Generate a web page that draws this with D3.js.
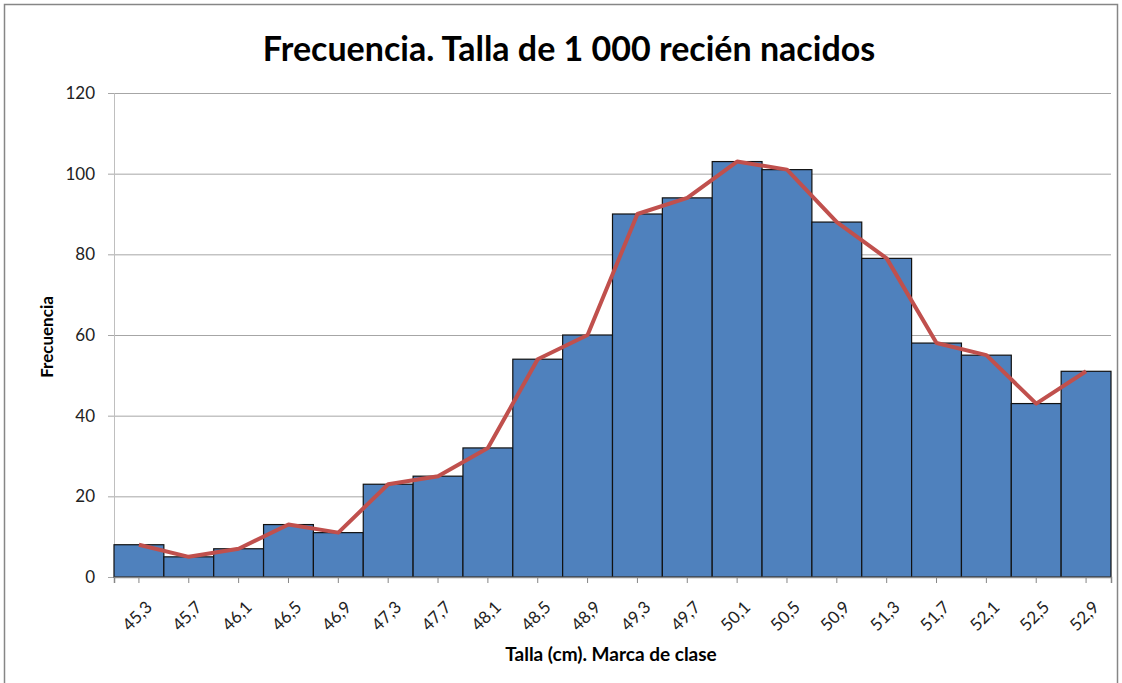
<!DOCTYPE html>
<html>
<head>
<meta charset="utf-8">
<script src="https://cdn.jsdelivr.net/npm/d3@7"></script>
<style>
  body { margin: 0; background: #fff; }
  svg { display: block; font-family: Lato, "Open Sans", sans-serif; }
</style>
</head>
<body>
<svg width="1122" height="683"></svg>
<script>
var categories = ["45,3", "45,7", "46,1", "46,5", "46,9", "47,3", "47,7", "48,1", "48,5", "48,9",
                  "49,3", "49,7", "50,1", "50,5", "50,9", "51,3", "51,7", "52,1", "52,5", "52,9"];
var frequencies = [8, 5, 7, 13, 11, 23, 25, 32, 54, 60, 90, 94, 103, 101, 88, 79, 58, 55, 43, 51];
var yTicks = [0, 20, 40, 60, 80, 100, 120];

var svg = d3.select("svg");
var margin = {top: 93, right: 11, bottom: 106, left: 114};
var width = 1122 - margin.left - margin.right;
var height = 683 - margin.top - margin.bottom;

// outer frame of the chart
svg.append("rect")
    .attr("x", 4.5).attr("y", 4.5)
    .attr("width", 1113).attr("height", 690)
    .attr("fill", "none")
    .attr("stroke", "#868686")
    .attr("stroke-width", 1.5);

svg.append("text")
    .attr("x", 569).attr("y", 61)
    .attr("text-anchor", "middle")
    .attr("font-size", 34)
    .attr("font-weight", "bold")
    .attr("fill", "#000")
    .text("Frecuencia. Talla de 1 000 recién nacidos");

var g = svg.append("g").attr("transform", "translate(" + margin.left + "," + margin.top + ")");

var x = d3.scaleBand()
    .domain(categories)
    .range([0, width])
    .padding(0);

var y = d3.scaleLinear()
    .domain([0, 120])
    .range([height, 0]);

// gridlines
g.selectAll(".grid")
    .data(yTicks.slice(1))
    .enter().append("line")
    .attr("class", "grid")
    .attr("x1", 0).attr("x2", width)
    .attr("y1", function(d) { return y(d) + 0.5; })
    .attr("y2", function(d) { return y(d) + 0.5; })
    .attr("stroke", "#a6a6a6")
    .attr("stroke-width", 1);

// y axis
var yAxis = g.append("g")
    .call(d3.axisLeft(y).tickValues(yTicks).tickSize(6).tickPadding(13));
yAxis.select(".domain").attr("stroke", "#bfbfbf");
yAxis.selectAll(".tick line").attr("stroke", "#a6a6a6");
yAxis.selectAll(".tick text")
    .attr("font-size", 17)
    .attr("font-family", "Lato, sans-serif")
    .attr("fill", "#222");

// bars
g.selectAll(".bar")
    .data(frequencies)
    .enter().append("rect")
    .attr("class", "bar")
    .attr("x", function(d, i) { return x(categories[i]); })
    .attr("y", function(d) { return y(d); })
    .attr("width", x.bandwidth())
    .attr("height", function(d) { return height - y(d); })
    .attr("fill", "#4f81bd")
    .attr("stroke", "#111")
    .attr("stroke-width", 1.2);

// x axis
var xAxis = g.append("g")
    .attr("transform", "translate(0," + height + ")")
    .call(d3.axisBottom(x).tickSize(6).tickPadding(4));
xAxis.select(".domain").attr("stroke", "#868686").attr("stroke-width", 1.5);
xAxis.selectAll(".tick line").attr("stroke", "#868686");
xAxis.selectAll(".tick text")
    .attr("font-size", 17)
    .attr("font-family", "Lato, sans-serif")
    .attr("fill", "#222")
    .attr("text-anchor", "end")
    .attr("dy", "0.35em")
    .attr("transform", "translate(3,20) rotate(-45)");

// frequency polygon
var line = d3.line()
    .x(function(d, i) { return x(categories[i]) + x.bandwidth() / 2; })
    .y(function(d) { return y(d); });

g.append("path")
    .datum(frequencies)
    .attr("d", line)
    .attr("fill", "none")
    .attr("stroke", "#c0504d")
    .attr("stroke-width", 4)
    .attr("stroke-linejoin", "round");

// axis titles
svg.append("text")
    .attr("transform", "translate(53,337) rotate(-90)")
    .attr("text-anchor", "middle")
    .attr("font-size", 17)
    .attr("font-weight", "bold")
    .text("Frecuencia");

svg.append("text")
    .attr("x", 611).attr("y", 661)
    .attr("text-anchor", "middle")
    .attr("font-size", 19)
    .attr("font-weight", "bold")
    .text("Talla (cm). Marca de clase");
</script>
</body>
</html>
